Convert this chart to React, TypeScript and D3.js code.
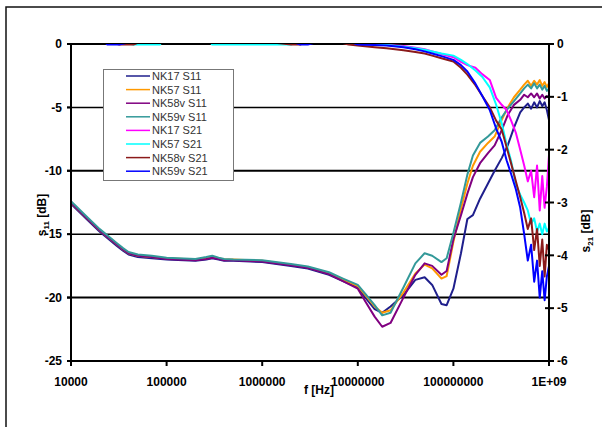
import React from "react";
import * as d3 from "d3";

// frequency grid for the S11 curves [Hz]
const s11Freq = [
  1e4, 1.5e4, 2e4, 3e4, 3.5e4, 4e4, 5e4, 7e4, 1e5, 2e5, 2.6e5, 3e5, 3.5e5, 4e5, 5e5, 1e6, 2e6, 3e6, 5e6, 7e6,
  1e7, 1.2e7, 1.5e7, 1.8e7, 2.2e7, 3e7, 4e7, 5e7, 6e7, 7.5e7, 8.5e7, 1e8, 1.2e8, 1.4e8, 1.6e8, 1.9e8, 2.3e8,
  2.7e8, 3.2e8, 3.7e8, 4.3e8, 5e8, 5.5e8, 6e8, 6.5e8, 7e8, 7.5e8, 8e8, 8.5e8, 9e8, 9.5e8, 1e9,
];

const nk17S11 = [
  -12.6, -13.9, -14.8, -15.9, -16.3, -16.6, -16.8, -16.9, -17.0, -17.1, -17.0, -16.9, -17.0, -17.1, -17.1, -17.2, -17.5, -17.7, -18.2, -18.7,
  -19.2, -20.0, -20.9, -21.2, -20.7, -19.8, -18.6, -18.4, -19.0, -20.5, -20.6, -19.3, -16.5, -13.8, -13.5, -12.2, -11.0,
  -10.0, -9.0, -8.0, -6.6, -5.4, -5.0, -4.7, -5.1, -4.6, -5.0, -4.5, -4.9, -4.6, -5.2, -6.0,
];
const nk57S11 = [
  -12.5, -13.8, -14.7, -15.8, -16.2, -16.5, -16.7, -16.8, -16.9, -17.0, -16.9, -16.8, -16.9, -17.0, -17.0, -17.1, -17.4, -17.6, -18.1, -18.6,
  -19.1, -19.8, -20.7, -21.2, -21.0, -19.6, -18.1, -17.4, -17.7, -18.5, -18.3, -15.6, -13.0, -11.0, -9.6, -8.5, -7.8,
  -7.3, -6.0, -5.0, -4.2, -3.6, -3.2, -2.9, -3.3, -2.9, -3.2, -2.85, -3.3, -3.0, -3.4, -3.1,
];
const nk58vS11 = [
  -12.5, -13.8, -14.7, -15.8, -16.2, -16.5, -16.7, -16.8, -16.95, -17.05, -16.95, -16.85, -16.95, -17.05, -17.05, -17.15, -17.45, -17.65, -18.15, -18.7,
  -19.3, -20.3, -21.5, -22.3, -22.0, -20.0, -18.2, -17.3, -17.5, -18.2, -17.9, -15.4, -13.5, -11.8, -10.5, -9.4, -8.6,
  -8.0, -6.8, -5.6, -4.8, -4.4, -4.0, -4.2, -3.9, -4.2, -3.9, -4.3, -4.0, -4.3, -4.1, -4.2,
];
const nk59vS11 = [
  -12.4, -13.7, -14.6, -15.7, -16.1, -16.4, -16.6, -16.7, -16.85, -16.95, -16.8, -16.7, -16.85, -16.95, -17.0, -17.05, -17.35, -17.55, -18.0, -18.5,
  -19.0, -19.7, -20.6, -21.4, -21.2, -19.2, -17.3, -16.5, -16.7, -17.2, -16.9, -14.9, -12.5, -10.3, -8.8, -7.8, -7.3,
  -6.8, -5.8, -5.1, -4.5, -3.9, -3.5, -3.2, -3.5, -3.1, -3.5, -3.2, -3.6, -3.3, -3.7, -3.5,
];

// frequency grid for the S21 curves [Hz]
const s21Freq = [
  1e4, 2.2e4, 2.4e4, 3.2e4, 4.5e4, 5.5e4, 8.5e4, 9e4, 2.8e5, 3e5, 6e5, 1e6, 2e6, 2.5e6, 3e6, 4e6, 6e6, 8e6,
  1e7, 1.5e7, 2e7, 3e7, 4e7, 5e7, 6e7, 7.5e7, 1e8, 1.2e8, 1.4e8, 1.7e8, 2e8, 2.4e8, 2.8e8, 3.2e8, 3.6e8, 4e8,
  4.5e8, 5e8, 5.5e8, 6e8, 6.5e8, 7e8, 7.5e8, 8e8, 8.5e8, 9e8, 9.5e8, 1e9,
];

const nk17S21 = [
  0.05, 0.05, 0.05, 0.05, 0.05, 0.05, 0.05, 0.05, 0.05, 0.05, 0.05, 0.05, 0.05, 0.05, 0.05, 0.05, 0.05, 0.05,
  -0.01, -0.01, -0.02, -0.04, -0.07, -0.1, -0.14, -0.19, -0.25, -0.34, -0.4, -0.45, -0.57, -0.68, -1.02, -1.15, -1.25, -1.44,
  -1.68, -2.0, -2.3, -2.6, -2.4, -2.9, -2.3, -3.15, -2.5, -3.1, -2.7, -2.1,
];
const nk57S21 = [
  0.05, 0.05, 0.05, 0.05, -0.01, -0.01, -0.01, 0.05, 0.05, -0.01, -0.01, -0.01, -0.01, 0.05, 0.05, 0.05, 0.05, 0.05,
  -0.01, -0.01, -0.02, -0.05, -0.08, -0.11, -0.14, -0.18, -0.22, -0.3, -0.38, -0.5, -0.62, -0.82, -1.15, -1.5, -1.9, -2.2,
  -2.65, -2.85, -3.0, -3.15, -3.4, -3.3, -3.55, -3.4, -3.6, -3.4, -3.55, -3.48,
];
const nk58vS21 = [
  0.05, 0.05, 0.05, -0.01, -0.01, 0.05, 0.05, 0.05, 0.05, 0.05, 0.05, 0.05, -0.01, -0.01, 0.05, 0.05, 0.05, -0.01,
  -0.03, -0.06, -0.08, -0.12, -0.15, -0.18, -0.22, -0.27, -0.33, -0.45, -0.58, -0.78, -0.98, -1.2, -1.45, -1.62, -1.95, -2.25,
  -2.6, -2.9, -3.2, -3.5, -3.3, -3.9, -3.5, -4.2, -3.7, -4.4, -3.8, -3.9,
];
const nk59vS21 = [
  0.05, 0.05, -0.01, -0.01, 0.05, 0.05, 0.05, 0.05, 0.05, 0.05, 0.05, 0.05, 0.05, -0.01, -0.01, 0.05, 0.05, 0.05,
  -0.01, -0.02, -0.03, -0.06, -0.1, -0.14, -0.18, -0.23, -0.3, -0.4, -0.52, -0.75, -0.98, -1.25, -1.6, -1.85, -2.2, -2.45,
  -2.75, -3.1, -3.6, -4.1, -3.8, -4.5, -4.1, -4.8, -4.3, -4.85, -4.4, -4.2,
];

const seriesNames = [
  "NK17 S11", "NK57 S11", "NK58v S11", "NK59v S11",
  "NK17 S21", "NK57 S21", "NK58v S21", "NK59v S21",
];
const seriesColors = [
  "#1f1f8c", "#ff9900", "#800080", "#339999",
  "#ff00ff", "#00ffff", "#8b1a1a", "#0000ff",
];

const xTicks = [1e4, 1e5, 1e6, 1e7, 1e8, 1e9];
const xTickLabels = ["10000", "100000", "1000000", "10000000", "100000000", "1E+09"];
const leftTicks = [0, -5, -10, -15, -20, -25];
const rightTicks = [0, -1, -2, -3, -4, -5, -6];

const W = 602;
const H = 427;
const L = 71, R = 549, T = 44, B = 361;

export default function App() {
  const x = d3.scaleLog().domain([1e4, 1e9]).range([L, R]);
  const yL = d3.scaleLinear().domain([-25, 0]).range([B, T]);
  const yR = d3.scaleLinear().domain([-6, 0]).range([B, T]);

  const s11 = [nk17S11, nk57S11, nk58vS11, nk59vS11];
  const s21 = [nk17S21, nk57S21, nk58vS21, nk59vS21];

  const lineL = d3.line<number>().x((_, i) => x(s11Freq[i])).y(d => yL(d));
  const lineR = d3.line<number>().x((_, i) => x(s21Freq[i])).y(d => yR(d));

  const font = "'Liberation Sans', Arial, sans-serif";

  return (
    <svg width={W} height={H} style={{ position: "absolute", left: 0, top: 0, background: "#fff" }}>
      <defs>
        <clipPath id="plot">
          <rect x={L} y={T} width={R - L} height={B - T} />
        </clipPath>
      </defs>
      <rect x={0} y={0} width={W} height={H} fill="#fff" />
      <rect x={6} y={7} width={720} height={520} fill="none" stroke="#111" strokeWidth={1.5} />

      {/* gridlines */}
      {leftTicks.slice(0, 5).map(t => (
        <line key={t} x1={L - 4} x2={R} y1={yL(t)} y2={yL(t)} stroke="#000" strokeWidth={t % 10 === 0 ? 2 : 1.5} />
      ))}

      {/* series */}
      <g clipPath="url(#plot)" fill="none" strokeWidth={2} strokeLinejoin="round">
        {s11.map((vals, i) => (
          <path key={"a" + i} d={lineL(vals) || ""} stroke={seriesColors[i]} />
        ))}
        {s21.map((vals, i) => (
          <path key={"b" + i} d={lineR(vals) || ""} stroke={seriesColors[i + 4]} />
        ))}
      </g>

      {/* left axis */}
      <line x1={L} x2={L} y1={T} y2={B + 1} stroke="#000" strokeWidth={2} />
      {leftTicks.map(t => (
        <g key={t}>
          <line x1={L - 4} x2={L} y1={yL(t)} y2={yL(t)} stroke="#000" strokeWidth={2} />
          <text x={62} y={yL(t)} dy="0.35em" textAnchor="end" fontFamily={font} fontWeight="bold" fontSize={12}>
            {t}
          </text>
        </g>
      ))}

      {/* bottom axis */}
      <line x1={L} x2={R} y1={B} y2={B} stroke="#000" strokeWidth={2} />
      {xTicks.map((t, i) => (
        <g key={t}>
          <line x1={x(t)} x2={x(t)} y1={B} y2={B + 5} stroke="#000" strokeWidth={2} />
          <text x={x(t)} y={386} textAnchor="middle" fontFamily={font} fontWeight="bold" fontSize={12}>
            {xTickLabels[i]}
          </text>
        </g>
      ))}

      {/* right axis */}
      <line x1={R} x2={R} y1={T} y2={B + 1} stroke="#000" strokeWidth={2} />
      {rightTicks.map(t => (
        <g key={t}>
          <line x1={R - 4} x2={R + 5} y1={yR(t)} y2={yR(t)} stroke="#000" strokeWidth={2} />
          <text x={557} y={yR(t)} dy="0.35em" textAnchor="start" fontFamily={font} fontWeight="bold" fontSize={12}>
            {t}
          </text>
        </g>
      ))}

      {/* axis titles */}
      <text transform="translate(46,215) rotate(-90)" textAnchor="middle" fontFamily={font} fontWeight="bold" fontSize={12}>
        s<tspan fontSize={8} dy={3}>11</tspan><tspan dy={-3}> [dB]</tspan>
      </text>
      <text transform="translate(590,231) rotate(-90)" textAnchor="middle" fontFamily={font} fontWeight="bold" fontSize={12}>
        s<tspan fontSize={8} dy={3}>21</tspan><tspan dy={-3}> [dB]</tspan>
      </text>
      <text x={319} y={394} textAnchor="middle" fontFamily={font} fontWeight="bold" fontSize={12}>
        f [Hz]
      </text>

      {/* legend */}
      <rect x={103.5} y={69.5} width={130} height={111} fill="#fff" stroke="#777" strokeWidth={1} />
      {seriesNames.map((name, i) => {
        const cy = 76 + i * 13.6;
        return (
          <g key={name}>
            <line x1={126} x2={150} y1={cy} y2={cy} stroke={seriesColors[i]} strokeWidth={1.5} />
            <text x={152} y={cy} dy="0.36em" fontFamily={font} fontSize={11} fill="#333">
              {name}
            </text>
          </g>
        );
      })}
    </svg>
  );
}
